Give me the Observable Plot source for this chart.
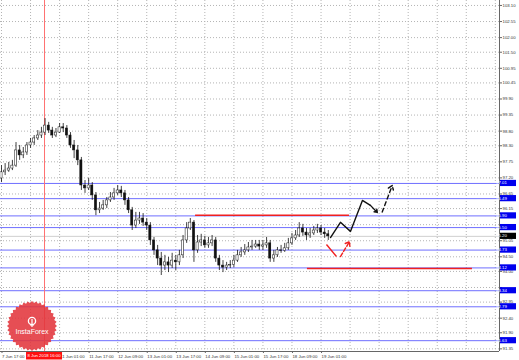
<!DOCTYPE html>
<html><head><meta charset="utf-8">
<script src="https://cdn.jsdelivr.net/npm/d3@7"></script>
<script src="https://cdn.jsdelivr.net/npm/@observablehq/plot@0.6"></script>
<style>
html,body{margin:0;padding:0;background:#fff;}
#chart{width:519px;height:360px;overflow:hidden;}
</style></head><body><div id="chart"></div>
<script>
// ---- data (H2 bars, hours since 7 Jun 17:00 in trading time) ----
const opens = [97.18,97.39,97.45,97.52,97.62,98.14,97.97,98.07,98.31,98.41,98.55,98.65,98.75,98.99,98.82,98.65,98.75,98.93,98.89,98.65,98.31,98.14,97.80,96.94,96.84,96.94,96.60,96.09,96.15,96.26,96.43,96.53,96.67,96.77,96.67,96.43,96.09,95.57,95.74,95.81,95.67,95.57,95.06,94.72,94.44,94.20,94.31,94.20,94.37,94.31,94.55,95.06,95.47,95.67,94.72,94.99,95.06,94.89,94.96,95.06,94.44,94.20,94.13,94.20,94.22,94.37,94.55,94.65,94.72,94.82,94.85,94.92,94.85,94.89,94.96,94.44,94.55,94.72,94.70,94.79,94.96,95.13,95.23,95.47,95.33,95.23,95.30,95.40,95.47,95.33,95.27];
const highs = [97.62,97.69,97.73,97.80,98.41,98.31,98.24,98.41,98.55,98.65,98.82,98.93,99.23,99.10,98.93,98.89,99.06,99.06,98.99,98.75,98.48,98.31,97.90,97.11,97.18,97.04,96.70,96.36,96.43,96.53,96.70,96.84,96.94,96.91,96.77,96.53,96.19,96.02,96.02,95.98,95.81,95.67,95.16,94.89,94.65,94.55,94.48,94.62,94.55,94.72,95.23,95.67,95.81,95.74,95.23,95.27,95.20,95.16,95.23,95.16,94.55,94.37,94.31,94.37,94.55,94.72,94.82,94.92,94.99,95.06,95.06,95.06,95.06,95.16,95.06,94.72,94.82,94.89,94.96,95.13,95.30,95.40,95.67,95.61,95.47,95.47,95.54,95.61,95.57,95.47,95.40];
const lows = [97.04,97.28,97.39,97.45,97.56,97.80,97.86,97.97,98.21,98.31,98.48,98.55,98.65,98.72,98.55,98.58,98.72,98.75,98.55,98.21,97.86,97.62,96.77,96.67,96.77,96.43,95.91,95.98,96.09,96.15,96.36,96.43,96.60,96.53,96.26,95.98,95.40,95.47,95.61,95.54,95.40,94.89,94.55,94.20,93.86,94.03,93.96,94.10,94.03,94.20,94.44,94.96,95.40,94.31,94.62,94.85,94.79,94.79,94.85,94.31,94.03,93.96,94.03,94.10,94.13,94.31,94.48,94.55,94.65,94.72,94.79,94.72,94.72,94.79,94.31,94.31,94.48,94.62,94.65,94.72,94.89,95.06,95.16,95.20,95.06,95.13,95.23,95.30,95.23,95.13,95.06];
const closes = [97.39,97.45,97.52,97.62,98.14,97.97,98.07,98.31,98.41,98.55,98.65,98.75,98.99,98.82,98.65,98.75,98.93,98.89,98.65,98.31,98.14,97.80,96.94,96.84,96.94,96.60,96.09,96.15,96.26,96.43,96.53,96.67,96.77,96.67,96.43,96.09,95.57,95.74,95.81,95.67,95.57,95.06,94.72,94.44,94.20,94.31,94.20,94.37,94.31,94.55,95.06,95.47,95.67,94.72,94.99,95.06,94.89,94.96,95.06,94.44,94.20,94.13,94.20,94.22,94.37,94.55,94.65,94.72,94.82,94.85,94.92,94.85,94.89,94.96,94.44,94.55,94.72,94.70,94.79,94.96,95.13,95.23,95.47,95.33,95.23,95.30,95.40,95.47,95.33,95.27,95.20];

const yTicks = [103.10,102.55,102.00,101.50,100.95,100.45,99.90,99.35,98.80,98.30,97.75,97.20,96.65,96.15,95.60,95.05,94.50,94.00,93.45,92.95,92.40,91.90,91.35];
const xTickHours = [0,16,32,48,64,80,96,112,128,144,160,176];
// the 8 Jun 09:00 tick label sits under the red marker label, so it is left blank
const xTickLabels = ["7 Jun 17:00","","11 Jun 01:00","11 Jun 17:00","12 Jun 09:00","13 Jun 01:00","13 Jun 17:00","14 Jun 09:00","15 Jun 01:00","15 Jun 17:00","18 Jun 09:00","19 Jun 01:00"];
const gridHours = [0,16,32,48,64,80,96,112,128,144,160,176,192,208,224,240,256,272];
const levels = [97.01,96.49,95.90,95.50,94.73,94.12,93.34,92.79,91.63];
const levelLabels = ["97.01","96.49","95.90","95.50","94.73","94.12","93.34","92.79","91.63"];
const currentPrice = 95.20;
const markerHour = 23.7;
const markerLabel = "8 Jun 2018 16:00";

// analyst drawings (time in hours, price)
const resistanceT = [106.9, 191.7], resistanceP = 95.92;
const supportT = [168.5, 259.4], supportP = 94.10;
const pathT = [181.2, 186.7, 192.2, 198.8, 203.2];
const pathP = [95.16, 95.68, 95.37, 96.43, 96.26];
const arrowSolid = {t1: 203.2, p1: 96.26, t2: 207.0, p2: 96.02};
const arrowDashed = {t1: 209.7, p1: 96.03, t2: 215.2, p2: 96.94};
const redStroke = {t1: 179.0, p1: 94.92, t2: 184.5, p2: 94.51};
const redArrow = {t1: 186.7, p1: 94.51, t2: 191.7, p2: 95.02};

const X_DOMAIN = [-0.55, 274.3];
const Y_DOMAIN = [91.26, 103.27];

const bars = opens.map((o, i) => ({t: i * 2, o, hi: highs[i], lo: lows[i], c: closes[i]}));
const path = pathT.map((t, i) => ({t, p: pathP[i]}));

// price-axis labels hidden by a level/price box (as in the terminal)
const pxPerUnit = 351 / (Y_DOMAIN[1] - Y_DOMAIN[0]);
const boxed = levels.concat([currentPrice]);
const tickText = d => boxed.some(v => Math.abs(v - d) * pxPerUnit < 3.4) ? "" : d.toFixed(2);

const chart = Plot.plot({
  width: 519, height: 360,
  marginLeft: 0, marginRight: 20, marginTop: 0, marginBottom: 9,
  x: {domain: X_DOMAIN, axis: null},
  y: {domain: Y_DOMAIN, axis: null},
  style: {fontFamily: "'Liberation Sans', Arial, sans-serif", background: "#fff", color: "#222"},
  marks: [
    Plot.gridX(gridHours, {stroke: "#b4b4b4", strokeOpacity: 1, strokeDasharray: "1,2"}),
    Plot.gridY(yTicks, {stroke: "#b4b4b4", strokeOpacity: 1, strokeDasharray: "1,2"}),
    Plot.ruleY([currentPrice], {stroke: "#cfcfcf", strokeWidth: 1}),
    Plot.ruleY(levels, {stroke: "#6f6fff", strokeWidth: 1}),
    Plot.ruleX([markerHour], {stroke: "#ff7070", strokeWidth: 1}),
    Plot.ruleX(bars, {x: "t", y1: "lo", y2: "hi", stroke: "#111", strokeWidth: 0.8}),
    Plot.rect(bars, {x1: d => d.t - 0.6, x2: d => d.t + 0.6, y1: "o", y2: "c",
      fill: d => d.c >= d.o ? "#fff" : "#111", stroke: "#111", strokeWidth: 0.5}),
    Plot.ruleY([resistanceP], {x1: resistanceT[0], x2: resistanceT[1], stroke: "#f02020", strokeWidth: 1.6}),
    Plot.ruleY([supportP], {x1: supportT[0], x2: supportT[1], stroke: "#f02020", strokeWidth: 1.6}),
    Plot.line(path, {x: "t", y: "p", stroke: "#111", strokeWidth: 1.4}),
    Plot.arrow([arrowSolid], {x1: "t1", y1: "p1", x2: "t2", y2: "p2", stroke: "#111", strokeWidth: 1.4, headLength: 5, headAngle: 70}),
    Plot.arrow([arrowDashed], {x1: "t1", y1: "p1", x2: "t2", y2: "p2", stroke: "#111", strokeWidth: 1.4, strokeDasharray: "4,3", headLength: 5, headAngle: 70}),
    Plot.link([redStroke], {x1: "t1", y1: "p1", x2: "t2", y2: "p2", stroke: "#f02020", strokeWidth: 1.4}),
    Plot.arrow([redArrow], {x1: "t1", y1: "p1", x2: "t2", y2: "p2", stroke: "#f02020", strokeWidth: 1.4, strokeDasharray: "4,2", headLength: 5, headAngle: 70}),
    Plot.ruleX([X_DOMAIN[1]], {stroke: "#666", strokeWidth: 1}),
    Plot.ruleY([Y_DOMAIN[0]], {stroke: "#666", strokeWidth: 1}),
    Plot.axisY(yTicks, {anchor: "right", tickSize: 2, tickPadding: 1, fontSize: 4.3, textAnchor: "start",
      tickFormat: tickText, stroke: "#666", fill: "#333"}),
    Plot.axisX(xTickHours, {anchor: "bottom", tickSize: 2, tickPadding: 1.5, fontSize: 4.3, textAnchor: "start", dx: 0.5,
      tickFormat: d => xTickLabels[xTickHours.indexOf(d)], stroke: "#666", fill: "#333"})
  ]
});
document.getElementById("chart").appendChild(chart);

// ---- overlays placed through the plot's own scales ----
const xs = chart.scale("x"), ys = chart.scale("y");
const svg = d3.select(chart);
const rightEdge = xs.apply(X_DOMAIN[1]);
const gL = svg.append("g").attr("font-family", "'Liberation Sans', Arial, sans-serif").attr("font-size", 4.3);
levels.forEach((v, i) => {
  const y = ys.apply(v);
  gL.append("rect").attr("x", rightEdge + 1).attr("y", y - 3.1).attr("width", 16).attr("height", 6.2).attr("fill", "#0000ee");
  gL.append("text").attr("x", rightEdge + 2.5).attr("y", y).attr("dy", "0.35em").attr("fill", "#fff").text(levelLabels[i]);
});
{
  const y = ys.apply(currentPrice);
  gL.append("rect").attr("x", rightEdge + 1).attr("y", y - 3.1).attr("width", 16).attr("height", 6.2).attr("fill", "#000");
  gL.append("text").attr("x", rightEdge + 2.5).attr("y", y).attr("dy", "0.35em").attr("fill", "#fff").text(currentPrice.toFixed(2));
}
{
  const x = xs.apply(markerHour);
  const yb = ys.apply(Y_DOMAIN[0]);
  gL.append("rect").attr("x", x - 18).attr("y", yb + 1).attr("width", 36).attr("height", 7.5).attr("fill", "#ff1010");
  gL.append("text").attr("x", x).attr("y", yb + 4.9).attr("dy", "0.35em").attr("text-anchor", "middle").attr("fill", "#fff").text(markerLabel);
}
// InstaForex badge
{
  const cx = 32, cy = 326, R = 25, r = 23, n = 36;
  const pts = [];
  for (let k = 0; k < n * 2; k++) {
    const a = Math.PI * k / n;
    const rad = k % 2 === 0 ? R : r;
    pts.push([cx + rad * Math.sin(a), cy - rad * Math.cos(a)]);
  }
  const g = svg.append("g");
  g.append("path").attr("d", "M" + pts.map(p => p.join(",")).join("L") + "Z").attr("fill", "#e2363c").attr("fill-opacity", 0.88);
  g.append("circle").attr("cx", cx).attr("cy", cy - 5).attr("r", 3.6).attr("fill", "none").attr("stroke", "#fff").attr("stroke-width", 1.3);
  g.append("path").attr("d", `M${cx},${cy - 7} V${cy + 1} M${cx - 2},${cy - 1} H${cx + 2}`).attr("stroke", "#fff").attr("stroke-width", 1.2);
  g.append("text").attr("x", cx).attr("y", cy + 7.5).attr("text-anchor", "middle").attr("fill", "#fff")
    .attr("font-family", "'Liberation Sans', Arial, sans-serif").attr("font-size", 7).text("InstaForex");
}
</script></body></html>
